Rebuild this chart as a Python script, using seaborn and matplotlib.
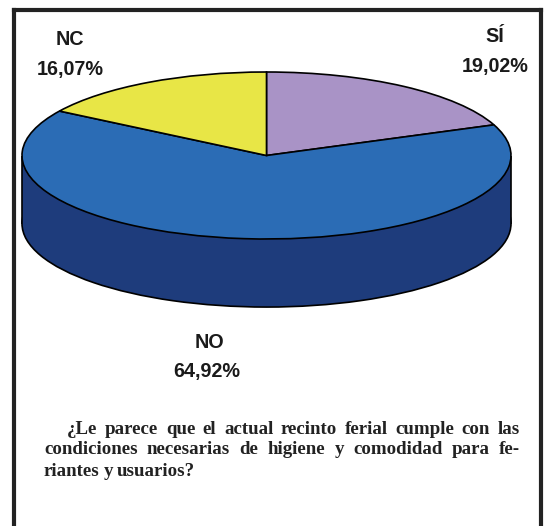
import matplotlib
matplotlib.use("Agg")
import matplotlib.pyplot as plt
import seaborn as sns

sns.set_theme(style="white")

categories = ["SÍ", "NO", "NC"]
values = [19.02, 64.92, 16.07]
value_labels = ["19,02%", "64,92%", "16,07%"]
colors = ["#A993C6", "#2B6CB5", "#E8E646"]
wall_color = "#1E3C7C"
question_lines = [
    "¿Le parece que el actual recinto ferial cumple con las",
    "condiciones necesarias de higiene y comodidad para fe-",
    "riantes y usuarios?",
]

W, H = 550, 526
fig = plt.figure(figsize=(W / 100, H / 100), dpi=100, facecolor="white")


def axes_px(x0, y0, x1, y1, **kw):
    return fig.add_axes([x0 / W, 1 - y1 / H, (x1 - x0) / W, (y1 - y0) / H], **kw)


# frame (open at the bottom, cut by the image edge)
frame = axes_px(14, 10, 541, 540)
frame.set_xticks([])
frame.set_yticks([])
for side in ("top", "left", "right"):
    frame.spines[side].set_visible(True)
    frame.spines[side].set_linewidth(3)
    frame.spines[side].set_color("#222222")
frame.spines["bottom"].set_visible(False)

# pie: unit circle stretched into an ellipse by the axes
depth = 0.815
pad = 0.02
ry = 83.5
rx = 244.5
cx, cy = 266.5, 155.5
ax = axes_px(cx - rx * (1 + pad), cy - ry * (1 + pad), cx + rx * (1 + pad), cy + ry * (1 + depth + pad))
ax.patch.set_alpha(0)
edge = dict(edgecolor="black", linewidth=1.2)
ax.pie([1], colors=[wall_color], center=(0, -depth), radius=1, wedgeprops=edge)
ax.bar(0, -depth, width=2, bottom=0, color=wall_color, linewidth=0, zorder=1)
ax.vlines([-1, 1], -depth, 0, color="black", linewidth=1.2, zorder=1.5)
wedges, _ = ax.pie(values, colors=colors, startangle=90, counterclock=False, wedgeprops=edge)
for w in wedges:
    w.set_zorder(2)
ax.set_aspect("auto")
ax.set_xlim(-1 - pad, 1 + pad)
ax.set_ylim(-1 - depth - pad, 1 + pad)
ax.axis("off")


def px_text(x, y, s, **kw):
    return fig.text(x / W, 1 - y / H, s, **kw)


label_pos = {"SÍ": (495, 37, 495, 66.5), "NO": (209, 342, 207, 372), "NC": (69.5, 39.5, 70, 69)}
label_style = dict(family="Liberation Sans", fontweight="bold", fontsize=14.2, color="#1a1a1a",
                   ha="center", va="center")
for cat, val in zip(categories, value_labels):
    x1, y1, x2, y2 = label_pos[cat]
    px_text(x1, y1, cat, **label_style)
    px_text(x2, y2, val, **label_style)

# justified question text: words spread between the left and right edges of each line
q_style = dict(family="Liberation Serif", fontweight="bold", fontsize=13.6, color="#222222",
               ha="left", va="center")
renderer = fig.canvas.get_renderer()
for x0, x1, y, line in zip((67, 44, 44), (520, 520, 195), (430, 450, 471), question_lines):
    words = line.split(" ")
    artists = [px_text(x0, y, word, **q_style) for word in words]
    widths = [a.get_window_extent(renderer).width for a in artists]
    gap = (x1 - x0 - sum(widths)) / (len(words) - 1)
    x = x0
    for a, wd in zip(artists, widths):
        a.set_x(x / W)
        x += wd + gap

fig.savefig("out.png", dpi=100, facecolor="white")
